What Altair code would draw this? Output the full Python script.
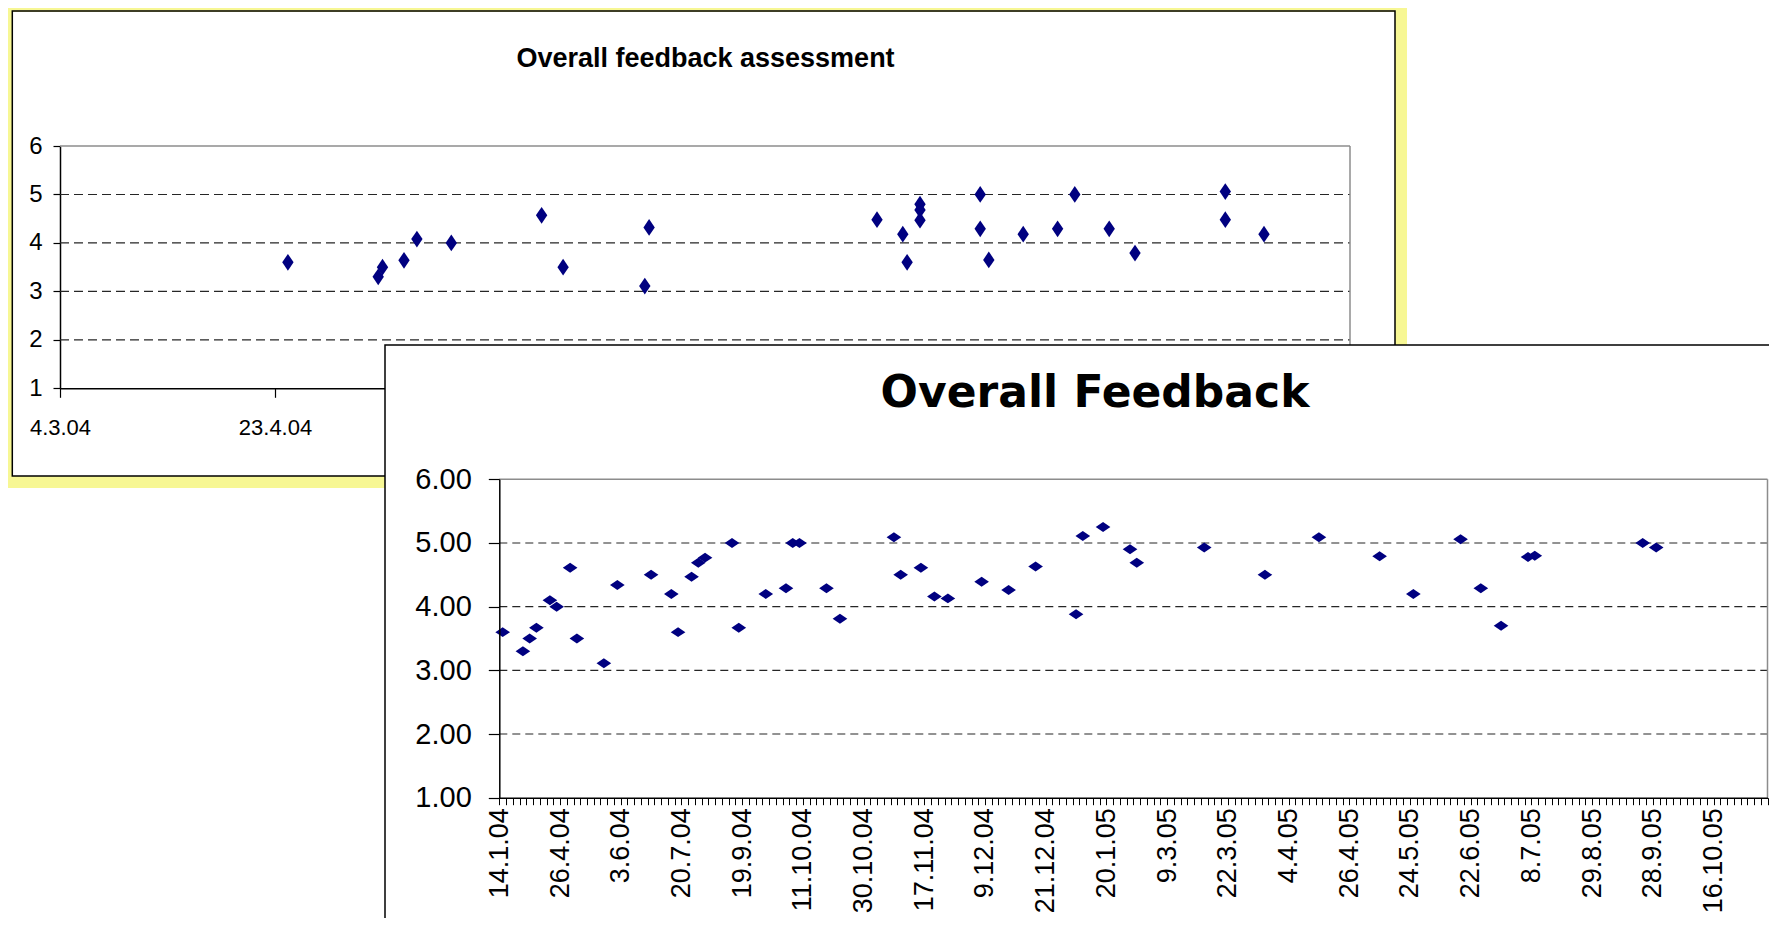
import json
import pandas as pd
import altair as alt

# ---------------- data: back chart ("Overall feedback assessment") ----------------
back_dates = ["2004-04-26", "2004-05-17", "2004-05-18", "2004-05-23", "2004-05-26",
              "2004-06-03", "2004-06-24", "2004-06-29", "2004-07-18", "2004-07-19",
              "2004-09-10", "2004-09-16", "2004-09-17", "2004-09-20", "2004-09-20",
              "2004-09-20", "2004-10-04", "2004-10-04", "2004-10-06", "2004-10-14",
              "2004-10-22", "2004-10-26", "2004-11-03", "2004-11-09", "2004-11-30",
              "2004-11-30", "2004-12-09"]
back_values = [3.6, 3.3, 3.5, 3.64, 4.08, 4.0, 4.57, 3.5, 3.11, 4.32,
               4.48, 4.18, 3.6, 4.8, 4.68, 4.47, 5.0, 4.29, 3.65, 4.18,
               4.29, 5.0, 4.29, 3.79, 5.06, 4.48, 4.18]
back_ticks = ["2004-03-04", "2004-04-23", "2004-06-12", "2004-08-01",
              "2004-09-20", "2004-11-09", "2004-12-29"]
back_domain = ["2004-03-04", "2004-12-29"]
back_title = "Overall feedback assessment"

# ---------------- data: front chart ("Overall Feedback") ----------------
front_cat = [0, 3, 4, 5, 7, 8, 10, 11, 15, 17,
             22, 25, 26, 28, 29, 30, 34, 35, 39, 42,
             43, 44, 48, 50, 58, 59, 62, 64, 66, 71,
             75, 79, 85, 86, 89, 93, 94, 104, 113, 121,
             130, 135, 142, 145, 148, 152, 153, 169, 171]
front_val = [3.6, 3.3, 3.5, 3.67, 4.1, 4.0, 4.61, 3.5, 3.11, 4.34,
             4.5, 4.2, 3.6, 4.47, 4.69, 4.77, 5.0, 3.67, 4.2, 4.29,
             5.0, 5.0, 4.29, 3.81, 5.09, 4.5, 4.61, 4.16, 4.13, 4.39,
             4.26, 4.63, 3.88, 5.11, 5.25, 4.9, 4.69, 4.93, 4.5, 5.09,
             4.79, 4.2, 5.06, 4.29, 3.7, 4.78, 4.8, 5.0, 4.93]
front_labels = ["14.1.04", "26.4.04", "3.6.04", "20.7.04", "19.9.04", "11.10.04",
                "30.10.04", "17.11.04", "9.12.04", "21.12.04", "20.1.05", "9.3.05",
                "22.3.05", "4.4.05", "26.4.05", "24.5.05", "22.6.05", "8.7.05",
                "29.8.05", "28.9.05", "16.10.05"]
front_n_cats = 188
front_label_step = 9
front_title = "Overall Feedback"
y_ticks = [1, 2, 3, 4, 5, 6]
grid_levels = [2, 3, 4, 5]

# ---------------- layout / style ----------------
W, H = 1761, 910
BX0, BX1, BY1, BY6 = 52, 1342, 380.3, 138
FX0, FX1, FY1, FY6 = 491.3, 1759.5, 789.7, 471.3

NAVY = "#000080"
GRID = "#262626"
BORDER = "#8c8c8c"
YELLOW = "#F7F794"
ARIAL = "'Liberation Sans', Arial, sans-serif"


def dt(s):
    y, m, d = map(int, s.split("-"))
    return alt.DateTime(year=y, month=m, date=d, utc=True)


one = pd.DataFrame({"k": [0]})


def bxs():
    return alt.Scale(type="utc", domain=[dt(back_domain[0]), dt(back_domain[1])],
                     range=[BX0, BX1], nice=False)


def bys():
    return alt.Scale(domain=[1, 6], range=[BY1, BY6], nice=False, zero=False)


def fxs():
    return alt.Scale(domain=[0, front_n_cats], range=[FX0, FX1], nice=False, zero=False)


def fys():
    return alt.Scale(domain=[1, 6], range=[FY1, FY6], nice=False, zero=False)


# ---------------- back chart ----------------
back_xaxis = alt.Axis(orient="bottom", offset=BY1 - H, values=[dt(t) for t in back_ticks],
                      labelExpr="utcFormat(datum.value, '%-d.%-m.%y')", labelFont=ARIAL,
                      labelFontSize=22, labelColor="black", labelPadding=20, tickSize=9,
                      tickColor="black", tickWidth=1.2, domainColor="black", domainWidth=1.5,
                      grid=False, title=None, labelOverlap=False, labelFlush=False, zindex=0)
back_yaxis = alt.Axis(orient="left", offset=-BX0, values=y_ticks, format="d",
                      labelFont=ARIAL, labelFontSize=24, labelColor="black", labelPadding=11,
                      tickSize=7, tickColor="black", tickWidth=1.2, domainColor="black",
                      domainWidth=1.5, grid=False, title=None, labelOverlap=False,
                      labelFlush=False, zindex=0)

yellow_frame = alt.Chart(one).mark_rect(fillOpacity=0, stroke=YELLOW, strokeWidth=12).encode(
    x=alt.value(-2), x2=alt.value(1393), y=alt.value(-2), y2=alt.value(474))
black_frame = alt.Chart(one).mark_rect(fillOpacity=0, stroke="black", strokeWidth=1.5).encode(
    x=alt.value(4.3), x2=alt.value(1387), y=alt.value(3), y2=alt.value(468))
back_title_mark = alt.Chart(one).mark_text(
    text=back_title, font=ARIAL, fontSize=27, fontWeight="bold", color="black",
    align="center", baseline="alphabetic").encode(x=alt.value(697.5), y=alt.value(58.7))

back_grid_df = pd.DataFrame({"date": [back_domain[0]] * len(grid_levels),
                             "date2": [back_domain[1]] * len(grid_levels),
                             "value": grid_levels})
back_grid = alt.Chart(back_grid_df).mark_rule(color=GRID, strokeWidth=1.1, strokeDash=[9, 5]).encode(
    x=alt.X("date:T", scale=bxs(), axis=None), x2="date2:T",
    y=alt.Y("value:Q", scale=bys(), axis=None))
back_top_df = pd.DataFrame({"date": [back_domain[0]], "date2": [back_domain[1]], "value": [6]})
back_top = alt.Chart(back_top_df).mark_rule(color=BORDER, strokeWidth=1.5).encode(
    x=alt.X("date:T", scale=bxs(), axis=None), x2="date2:T",
    y=alt.Y("value:Q", scale=bys(), axis=None))
back_right_df = pd.DataFrame({"date": [back_domain[1]], "value": [1], "value2": [6]})
back_right = alt.Chart(back_right_df).mark_rule(color=BORDER, strokeWidth=1.5).encode(
    x=alt.X("date:T", scale=bxs(), axis=None),
    y=alt.Y("value:Q", scale=bys(), axis=None), y2="value2:Q")

back_df = pd.DataFrame({"date": back_dates, "value": back_values})
back_points = alt.Chart(back_df).mark_point(
    shape="M0,-1L0.68,0L0,1L-0.68,0Z", filled=True, size=280, color=NAVY,
    opacity=1, strokeWidth=0).encode(
    x=alt.X("date:T", scale=bxs(), axis=back_xaxis),
    y=alt.Y("value:Q", scale=bys(), axis=back_yaxis))

# ---------------- front chart ----------------
label_expr = ("datum.value % {s} === 0 ? {arr}[datum.value / {s}] : ''"
              .format(s=front_label_step, arr=json.dumps(front_labels)))
front_xaxis = alt.Axis(orient="bottom", offset=FY1 - H, values=list(range(0, front_n_cats + 1)),
                       labelExpr=label_expr, labelAngle=270, labelAlign="right",
                       labelBaseline="middle", labelFont=ARIAL, labelFontSize=27,
                       labelColor="black", labelPadding=3, tickSize=7, tickColor="black",
                       tickWidth=1, domainColor="black", domainWidth=1.5, grid=False,
                       title=None, labelOverlap=False, labelFlush=False, zindex=1)
front_yaxis = alt.Axis(orient="left", offset=-FX0, values=y_ticks, format=".2f",
                       labelFont=ARIAL, labelFontSize=29, labelColor="black", labelPadding=17,
                       tickSize=11, tickColor="black", tickWidth=1.2, domainColor="black",
                       domainWidth=1.5, grid=False, title=None, labelOverlap=False,
                       labelFlush=False, zindex=1)

white_frame = alt.Chart(one).mark_rect(fill="white", stroke="black", strokeWidth=1.5).encode(
    x=alt.value(377), x2=alt.value(1900), y=alt.value(337), y2=alt.value(1100))
front_title_mark = alt.Chart(one).mark_text(
    text=front_title, font="DejaVu Sans", fontSize=44, fontWeight="bold", color="black",
    align="center", baseline="alphabetic").encode(x=alt.value(1087), y=alt.value(399))

front_grid_df = pd.DataFrame({"pos": [0] * len(grid_levels),
                              "pos2": [front_n_cats] * len(grid_levels),
                              "value": grid_levels})
front_grid = alt.Chart(front_grid_df).mark_rule(color=GRID, strokeWidth=1.1, strokeDash=[8, 5]).encode(
    x=alt.X("pos:Q", scale=fxs(), axis=None), x2="pos2:Q",
    y=alt.Y("value:Q", scale=fys(), axis=None))
front_top_df = pd.DataFrame({"pos": [0], "pos2": [front_n_cats], "value": [6]})
front_top = alt.Chart(front_top_df).mark_rule(color=BORDER, strokeWidth=1.5).encode(
    x=alt.X("pos:Q", scale=fxs(), axis=None), x2="pos2:Q",
    y=alt.Y("value:Q", scale=fys(), axis=None))
front_right_df = pd.DataFrame({"pos": [front_n_cats], "value": [1], "value2": [6]})
front_right = alt.Chart(front_right_df).mark_rule(color=BORDER, strokeWidth=1.5).encode(
    x=alt.X("pos:Q", scale=fxs(), axis=None),
    y=alt.Y("value:Q", scale=fys(), axis=None), y2="value2:Q")

front_df = pd.DataFrame({"cat": front_cat, "value": front_val})
front_df["pos"] = front_df["cat"] + 0.5
front_points = alt.Chart(front_df).mark_point(
    shape="M-1,0L0,-0.68L1,0L0,0.68Z", filled=True, size=215, color=NAVY,
    opacity=1, strokeWidth=0).encode(
    x=alt.X("pos:Q", scale=fxs(), axis=front_xaxis),
    y=alt.Y("value:Q", scale=fys(), axis=front_yaxis))

chart = (
    alt.layer(yellow_frame, black_frame, back_title_mark, back_grid, back_top, back_right,
              back_points,
              white_frame, front_title_mark, front_grid, front_top, front_right,
              front_points)
    .resolve_scale(x="independent", y="independent")
    .resolve_axis(x="independent", y="independent")
    .properties(width=W, height=H, autosize=alt.AutoSizeParams(type="none"), padding=0,
                background="white")
    .configure_view(strokeWidth=0)
)

chart.save("out.html", embed_options={"renderer": "svg", "actions": False})
